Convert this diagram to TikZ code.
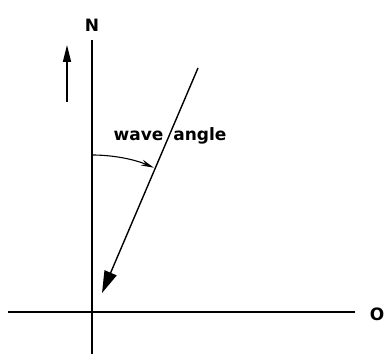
\documentclass[tikz,border=0pt]{standalone}
\usepackage{fontspec}
\setmainfont{DejaVu Sans}
\usetikzlibrary{arrows.meta}

\begin{document}
\begin{tikzpicture}[x=1pt, y=1pt, font=\fontsize{17}{19}\selectfont\bfseries,
	axis/.style={line width=2.4pt},
	wave/.style={line width=1.4pt, -{Triangle[length=22pt,width=13pt]}}]
	\useasboundingbox (0,0) rectangle (385,354);
	\coordinate (O) at (92,42);
	\coordinate (Ntop) at (92,314);
	\coordinate (Nbot) at (92,0);
	\coordinate (W) at (8,42);
	\coordinate (E) at (355,42);
	\node (N) at (92,329) {N};
	\node (OL) [anchor=east, inner sep=0pt] at (384.5,40) {O};
	\coordinate (up0) at (67,252);
	\coordinate (up1) at (67,309);
	\coordinate (w0) at (198,286);
	\coordinate (w1) at (102,61);
	\coordinate (a0) at (92,199);
	\node (WA) at (170,218) {wave\hspace{4pt} angle};

	\draw [axis] (Nbot) -- (Ntop);
	\draw [axis] (W) -- (E);
	\draw [line width=1.3pt, -{Triangle[length=17pt,width=8pt]}] (up0) -- (up1);
	\draw [wave] (w0) -- (w1);
	\draw [line width=1.1pt, -{Stealth[length=13pt,width=6pt]}] (a0) arc [start angle=90, end angle=66.8, radius=157];
\end{tikzpicture}
\end{document}
